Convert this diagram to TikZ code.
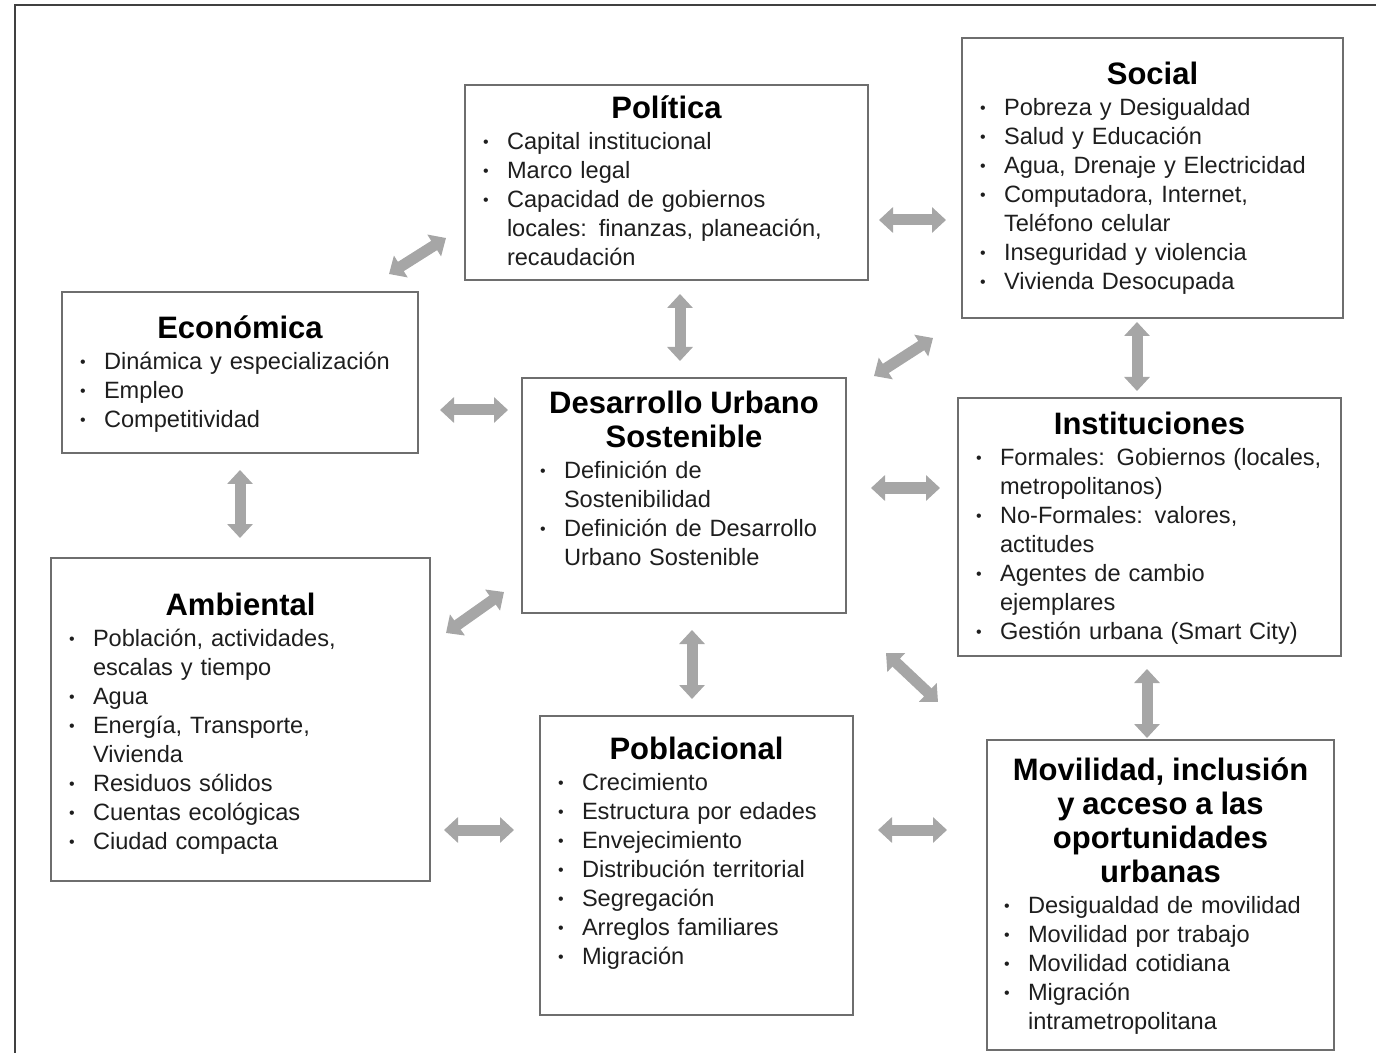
\documentclass[tikz,border=0pt]{standalone}
\usepackage{fontspec}
\setmainfont{Liberation Sans}
\usetikzlibrary{arrows.meta,positioning,calc}
\definecolor{framegray}{HTML}{6E6E6E}
\definecolor{arrowgray}{HTML}{A6A6A6}
\definecolor{inkgray}{HTML}{1E1E1E}

\newcommand{\ttl}[1]{{\centering\fontsize{15.5}{17}\selectfont\bfseries\color{black}\strut#1\strut\par}\vspace{1pt}}
\newcommand{\itm}[1]{\par\hangindent=12pt\hangafter=1\noindent
  \makebox[12pt][l]{\raisebox{0.2ex}{\fontsize{8}{8}\selectfont\textbullet}}#1\par}

\tikzset{
  box/.style={draw=framegray, line width=1pt, anchor=north west, inner sep=0pt, outer sep=0pt},
  txt/.style={anchor=north, inner sep=0pt, outer sep=0pt, text width=#1, align=left,
    font=\fontsize{11.8}{14.5}\selectfont, text=inkgray},
  dbl/.style={draw=arrowgray, line width=5.5pt,
    {Triangle[length=7pt,width=12.5pt]}-{Triangle[length=7pt,width=12.5pt]}}
}

\begin{document}
\begin{tikzpicture}[x=0.5pt,y=-0.5pt]
\useasboundingbox (0,0) rectangle (1376,1053);
\draw[black!75,line width=1.2pt] (15,1053) -- (15,5) -- (1376,5);

% boxes
\node[box,minimum width=201.5pt,minimum height=97.5pt] (pol) at (465,85) {};
\node[box,minimum width=190.5pt,minimum height=140pt] (soc) at (962,38) {};
\node[box,minimum width=178pt,minimum height=80.5pt] (eco) at (62,292) {};
\node[box,minimum width=162pt,minimum height=117.5pt] (dus) at (522,378) {};
\node[box,minimum width=191.5pt,minimum height=129pt] (ins) at (958,398) {};
\node[box,minimum width=189.5pt,minimum height=161.5pt] (amb) at (51,558) {};
\node[box,minimum width=156.5pt,minimum height=149.5pt] (pob) at (540,716) {};
\node[box,minimum width=173.5pt,minimum height=155pt] (mov) at (987,740) {};

% texts
\node[txt=183.5pt] (pol-t) at ($(pol.north)+(0,10)$) {\ttl{Política}
  \itm{Capital institucional}
  \itm{Marco legal}
  \itm{Capacidad de gobiernos\newline locales: finanzas, planeación,\newline recaudación}};
\node[txt=172.5pt] (soc-t) at ($(soc.north)+(0,23)$) {\ttl{Social}
  \itm{Pobreza y Desigualdad}
  \itm{Salud y Educación}
  \itm{Agua, Drenaje y Electricidad}
  \itm{Computadora, Internet,\newline Teléfono celular}
  \itm{Inseguridad y violencia}
  \itm{Vivienda Desocupada}};
\node[txt=160pt] (eco-t) at ($(eco.north)+(0,23)$) {\ttl{Económica}
  \itm{Dinámica y especialización}
  \itm{Empleo}
  \itm{Competitividad}};
\node[txt=144pt] (dus-t) at ($(dus.north)+(0,12)$) {\ttl{Desarrollo Urbano\\Sostenible}
  \itm{Definición de\newline Sostenibilidad}
  \itm{Definición de Desarrollo\newline Urbano Sostenible}};
\node[txt=173.5pt] (ins-t) at ($(ins.north)+(0,13)$) {\ttl{Instituciones}
  \itm{Formales: Gobiernos (locales,\newline metropolitanos)}
  \itm{No-Formales: valores,\newline actitudes}
  \itm{Agentes de cambio\newline ejemplares}
  \itm{Gestión urbana (Smart City)}};
\node[txt=171.5pt] (amb-t) at ($(amb.north)+(0,34)$) {\ttl{Ambiental}
  \itm{Población, actividades,\newline escalas y tiempo}
  \itm{Agua}
  \itm{Energía, Transporte,\newline Vivienda}
  \itm{Residuos sólidos}
  \itm{Cuentas ecológicas}
  \itm{Ciudad compacta}};
\node[txt=138.5pt] (pob-t) at ($(pob.north)+(0,20)$) {\ttl{Poblacional}
  \itm{Crecimiento}
  \itm{Estructura por edades}
  \itm{Envejecimiento}
  \itm{Distribución territorial}
  \itm{Segregación}
  \itm{Arreglos familiares}
  \itm{Migración}};
\node[txt=156.5pt] (mov-t) at ($(mov.north)+(0,17)$) {\ttl{Movilidad, inclusión\\y acceso a las\\oportunidades\\urbanas}
  \itm{Desigualdad de movilidad}
  \itm{Movilidad por trabajo}
  \itm{Movilidad cotidiana}
  \itm{Migración\newline intrametropolitana}};

% double arrows
\draw[dbl] ($(eco.north east)+(-29,-18)$) -- ($(pol.south west)+(-19,-42)$);
\draw[dbl] ($(pol.south)+(13.5,14)$) -- ($(dus.north)+(-4,-17)$);
\draw[dbl] ($(pol.east)+(11,37.5)$) -- ($(soc.west)+(-16,42)$);
\draw[dbl] ($(eco.east)+(22,37.5)$) -- ($(dus.west)+(-14,-85.5)$);
\draw[dbl] ($(eco.south)+(0,17)$) -- ($(amb.north)+(-0.5,-20)$);
\draw[dbl] ($(dus.north east)+(28,-2)$) -- ($(soc.south west)+(-29,20)$);
\draw[dbl] ($(soc.south)+(-15.5,4)$) -- ($(ins.north)+(-12.5,-7)$);
\draw[dbl] ($(dus.east)+(25,-7.5)$) -- ($(ins.west)+(-18,-39)$);
\draw[dbl] ($(amb.north east)+(16,75)$) -- ($(dus.south west)+(-18,-21)$);
\draw[dbl] ($(dus.south)+(8,17)$) -- ($(pob.north)+(-4.5,-17)$);
\draw[dbl] ($(dus.south east)+(40,40)$) -- ($(mov.north west)+(-49,-38)$);
\draw[dbl] ($(ins.south)+(-2.5,13)$) -- ($(mov.north)+(-13.5,-2)$);
\draw[dbl] ($(amb.east)+(14,110.5)$) -- ($(pob.west)+(-26,-35.5)$);
\draw[dbl] ($(pob.east)+(25,-35.5)$) -- ($(mov.west)+(-40,-65)$);
\end{tikzpicture}
\end{document}
